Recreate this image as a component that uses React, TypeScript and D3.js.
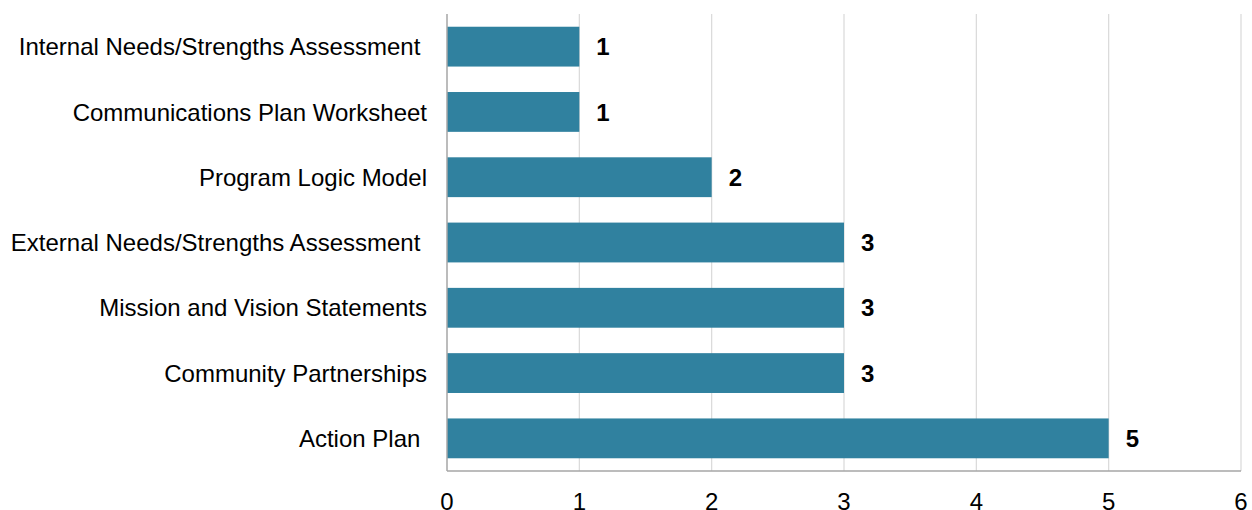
import React from "react";
import * as d3 from "d3";

const categories = [
  "Internal Needs/Strengths Assessment ",
  "Communications Plan Worksheet",
  "Program Logic Model",
  "External Needs/Strengths Assessment ",
  "Mission and Vision Statements",
  "Community Partnerships",
  "Action Plan ",
];
const values = [1, 1, 2, 3, 3, 3, 5];
const xTicks = [0, 1, 2, 3, 4, 5, 6];

const W = 1252;
const H = 510;
const margin = { left: 447, right: 11, top: 14, bottom: 39 };

export default function App() {
  const x = d3.scaleLinear().domain([0, 6]).range([margin.left, W - margin.right]);
  const y = d3
    .scaleBand<string>()
    .domain(categories)
    .range([margin.top, H - margin.bottom])
    .paddingInner(0.39)
    .paddingOuter(0.195);
  const font = "Arial, 'Liberation Sans', sans-serif";
  return (
    <svg
      width={W}
      height={H}
      style={{ position: "absolute", left: 0, top: 0, background: "#fff" }}
      fontFamily={font}
    >
      {xTicks.slice(1).map((t) => (
        <line key={t} x1={x(t)} x2={x(t)} y1={margin.top} y2={H - margin.bottom} stroke="#d9d9d9" strokeWidth={1.2} />
      ))}
      {categories.map((c, i) => (
        <g key={c}>
          <rect x={x(0)} y={y(c)} width={x(values[i]) - x(0)} height={y.bandwidth()} fill="#30819f" />
          <text
            x={x(values[i]) + 17}
            y={(y(c) as number) + y.bandwidth() / 2}
            dy="0.36em"
            fontSize={24}
            fontWeight="bold"
            fill="#000"
          >
            {values[i]}
          </text>
          <text
            x={427}
            y={(y(c) as number) + y.bandwidth() / 2}
            dy="0.36em"
            textAnchor="end"
            fontSize={24}
            fill="#000"
            style={{ whiteSpace: "pre" }}
          >
            {c}
          </text>
        </g>
      ))}
      <line x1={x(0)} x2={x(6)} y1={H - margin.bottom} y2={H - margin.bottom} stroke="#a6a6a6" strokeWidth={1.5} />
      <line x1={x(0)} x2={x(0)} y1={margin.top} y2={H - margin.bottom} stroke="#a6a6a6" strokeWidth={1.5} />
      {xTicks.map((t) => (
        <text key={t} x={x(t)} y={510} textAnchor="middle" fontSize={24} fill="#000">
          {t}
        </text>
      ))}
    </svg>
  );
}
